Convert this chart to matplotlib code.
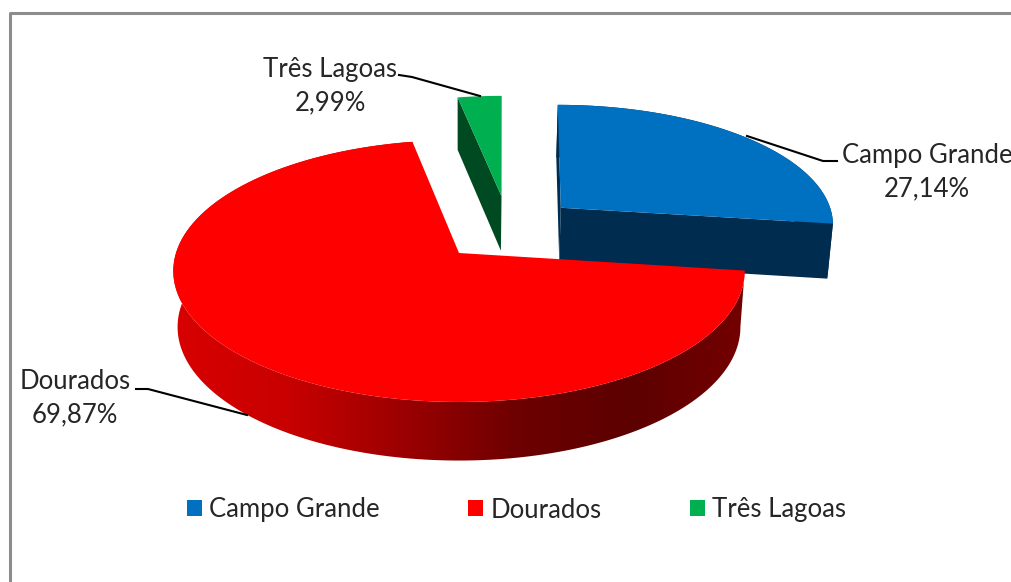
import numpy as np
import matplotlib
matplotlib.use('Agg')
import matplotlib.pyplot as plt
from matplotlib.colors import LinearSegmentedColormap
from matplotlib.patches import Patch, Polygon

# data
cities = ['Campo Grande', 'Dourados', 'Três Lagoas']
shares = [27.14, 69.87, 2.99]
top_colors = ['#0070c0', '#ff0000', '#00b050']
side_colors = ['#002c4f', None, '#004a21']

# pie geometry, pixels of the picture
cx, cy = 459, 253
rad_x, rad_y, persp = 283, 128.5, 0.1374
depth, scale_x, scale_y = 55.6, 0.985, 1.02
# how far each slice is pulled out, on the flat disc, and its lean on screen
explode = [(0.378, 0.37), (0, 0), (0.16, 0.47)]
lean = [0.085, 0, 0.05]


def project(u, v):
    w = 1 + persp * v
    return cx + rad_x * u / w, cy - rad_y * v / w


def drop(x, y):
    # same point on the bottom face
    return cx + (x - cx) * scale_x, cy + (y - cy) * scale_y + depth


def wedge(a0, a1, off):
    t = np.radians(np.linspace(a0, a1, 200))
    return project(np.sin(t) + off[0], np.cos(t) + off[1])


def wall(x, y):
    bx, by = drop(np.asarray(x), np.asarray(y))
    return np.r_[x, bx[::-1]], np.r_[y, by[::-1]]


fig = plt.figure(figsize=(10.11, 5.82), dpi=100)
ax = fig.add_axes([0, 0, 1, 1])

# chart frame
ax.plot([9.5, 9.5, 1011], [582, 12.5, 12.5], color='#8c8c8c', lw=2.2, zorder=1)

red_map = LinearSegmentedColormap.from_list(
    'red_side', ['#d80000', '#c80000', '#9c0000', '#6e0000', '#5c0000', '#740000'])

ends = np.cumsum(shares) / 100 * 360
starts = np.r_[0, ends[:-1]]

# back to front: blue, green, red
for i in [0, 2, 1]:
    off = explode[i]
    ax_x, ax_y = project(off[0], off[1])
    arc_x, arc_y = wedge(starts[i], ends[i], off)
    arc_x = arc_x + lean[i] * (ax_y - arc_y)
    if i == 1:
        sx, sy = wall(arc_x, arc_y)
        grad = np.linspace(0, 1, 256).reshape(1, -1)
        im = ax.imshow(grad, cmap=red_map, aspect='auto', zorder=2,
                       extent=[sx.min(), sx.max(), sy.max(), sy.min()])
        im.set_clip_path(Polygon(np.c_[sx, sy], transform=ax.transData))
    elif i == 0:
        # rim plus the cut faces that look at the viewer
        sx, sy = wall(arc_x, arc_y)
        ax.fill(sx, sy, color=side_colors[i], lw=0, zorder=2)
        sx, sy = wall([ax_x, arc_x[-1]], [ax_y, arc_y[-1]])
        ax.fill(sx, sy, color=side_colors[i], lw=0, zorder=2)
        sx, sy = wall([ax_x, arc_x[0]], [ax_y, arc_y[0]])
        ax.fill(sx, sy, color=side_colors[i], lw=0, zorder=2)
    else:
        sx, sy = wall([ax_x, arc_x[0]], [ax_y, arc_y[0]])
        ax.fill(sx, sy, color=side_colors[i], lw=0, zorder=2)
    ax.fill(np.r_[ax_x, arc_x], np.r_[ax_y, arc_y], color=top_colors[i], lw=0, zorder=2)

# data labels
font = 'Lato'
txt = '#262626'
label_pos = [(927, 172), (75, 398), (330, 86)]
leaders = [([747, 823, 837], [136, 161, 161]),
           ([136, 148, 247], [389, 389, 415]),
           ([399, 412, 480], [75, 77, 96])]
for name, val, pos, line in zip(cities, shares, label_pos, leaders):
    label = name + '\n' + f'{val:.2f}'.replace('.', ',') + '%'
    ax.text(pos[0], pos[1], label, ha='center', va='center', fontsize=18.5,
            family=font, color=txt, linespacing=1.4, zorder=4)
    ax.plot(line[0], line[1], color='black', lw=1.5, zorder=3)

# legend
handles = [Patch(color=c, lw=0) for c in top_colors]
ax.legend(handles, cities, loc='center', bbox_to_anchor=(516.5, 510),
          bbox_transform=ax.transData, ncol=3, frameon=False,
          prop={'family': font, 'size': 18.5}, labelcolor=txt,
          handlelength=0.58, handleheight=0.58, handletextpad=0.27,
          columnspacing=3.45, borderpad=0)

ax.set_xlim(0, 1011)
ax.set_ylim(582, 0)
ax.axis('off')

fig.savefig('out.png', dpi=100)
